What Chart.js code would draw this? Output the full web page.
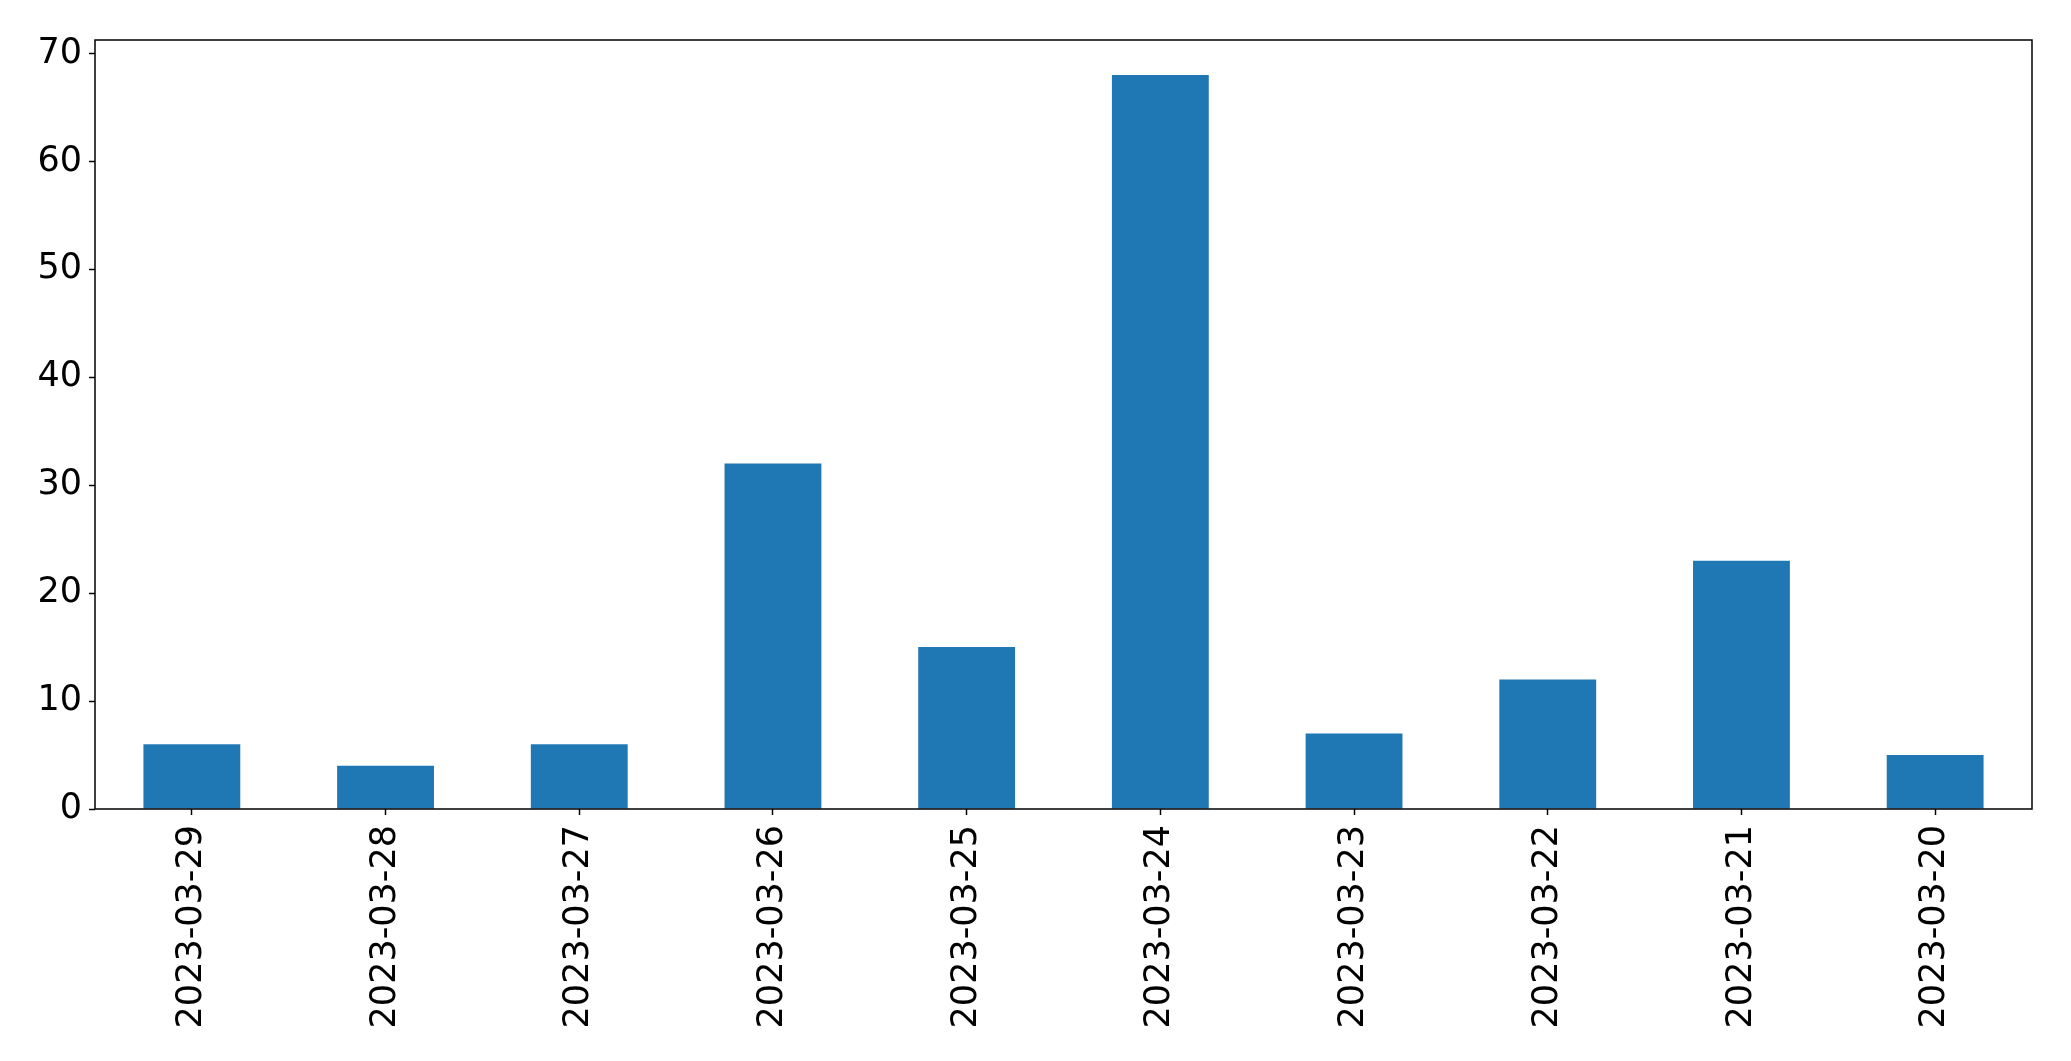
<!DOCTYPE html>
<html>
<head>
<meta charset="utf-8">
<script src="https://cdn.jsdelivr.net/npm/chart.js@4"></script>
<style>
  html, body { margin: 0; padding: 0; background: #fff; }
  #wrap { width: 2071px; height: 1061px; }
</style>
</head>
<body>
<div id="wrap"><canvas id="counts" width="2071" height="1061"></canvas></div>
<script>
// data
const dates = ["2023-03-29", "2023-03-28", "2023-03-27", "2023-03-26", "2023-03-25",
  "2023-03-24", "2023-03-23", "2023-03-22", "2023-03-21", "2023-03-20"];
const counts = [6, 4, 6, 32, 15, 68, 7, 12, 23, 5];
const yTicks = [0, 10, 20, 30, 40, 50, 60, 70];

Chart.defaults.font.family = "'DejaVu Sans', sans-serif";
Chart.defaults.color = "#000";

// box round the plot area, like matplotlib spines
const frame = {
  id: "frame",
  afterDatasetsDraw(chart) {
    const a = chart.chartArea;
    const ctx = chart.ctx;
    ctx.save();
    ctx.strokeStyle = "#000";
    ctx.lineWidth = 1.5;
    ctx.strokeRect(a.left, a.top, a.right - a.left, a.bottom - a.top);
    ctx.restore();
  },
};

new Chart(document.getElementById("counts"), {
  type: "bar",
  data: {
    labels: dates,
    datasets: [
      {
        data: counts,
        backgroundColor: "#1f77b4",
        barPercentage: 0.5,
        categoryPercentage: 1.0,
      },
    ],
  },
  options: {
    responsive: false,
    animation: false,
    layout: { padding: { left: 0, top: 40, right: 39, bottom: 0 } },
    plugins: {
      legend: { display: false },
      tooltip: { enabled: false },
    },
    scales: {
      x: {
        grid: {
          display: true,
          drawOnChartArea: false,
          offset: false,
          tickLength: 6,
          tickColor: "#000",
          tickWidth: 1.5,
        },
        border: { display: false },
        ticks: {
          font: { size: 35 },
          color: "#000",
          minRotation: 90,
          maxRotation: 90,
          padding: 10,
          autoSkip: false,
        },
        afterFit: (s) => { s.height = 252; },
      },
      y: {
        min: 0,
        max: 71.25,
        grid: {
          display: true,
          drawOnChartArea: false,
          tickLength: 6,
          tickColor: "#000",
          tickWidth: 1.5,
        },
        border: { display: false },
        ticks: {
          font: { size: 35 },
          color: "#000",
          padding: 7,
        },
        afterBuildTicks: (axis) => {
          axis.ticks = yTicks.map((v) => ({ value: v }));
        },
        afterFit: (s) => { s.width = 95; },
      },
    },
  },
  plugins: [frame],
});
</script>
</body>
</html>
